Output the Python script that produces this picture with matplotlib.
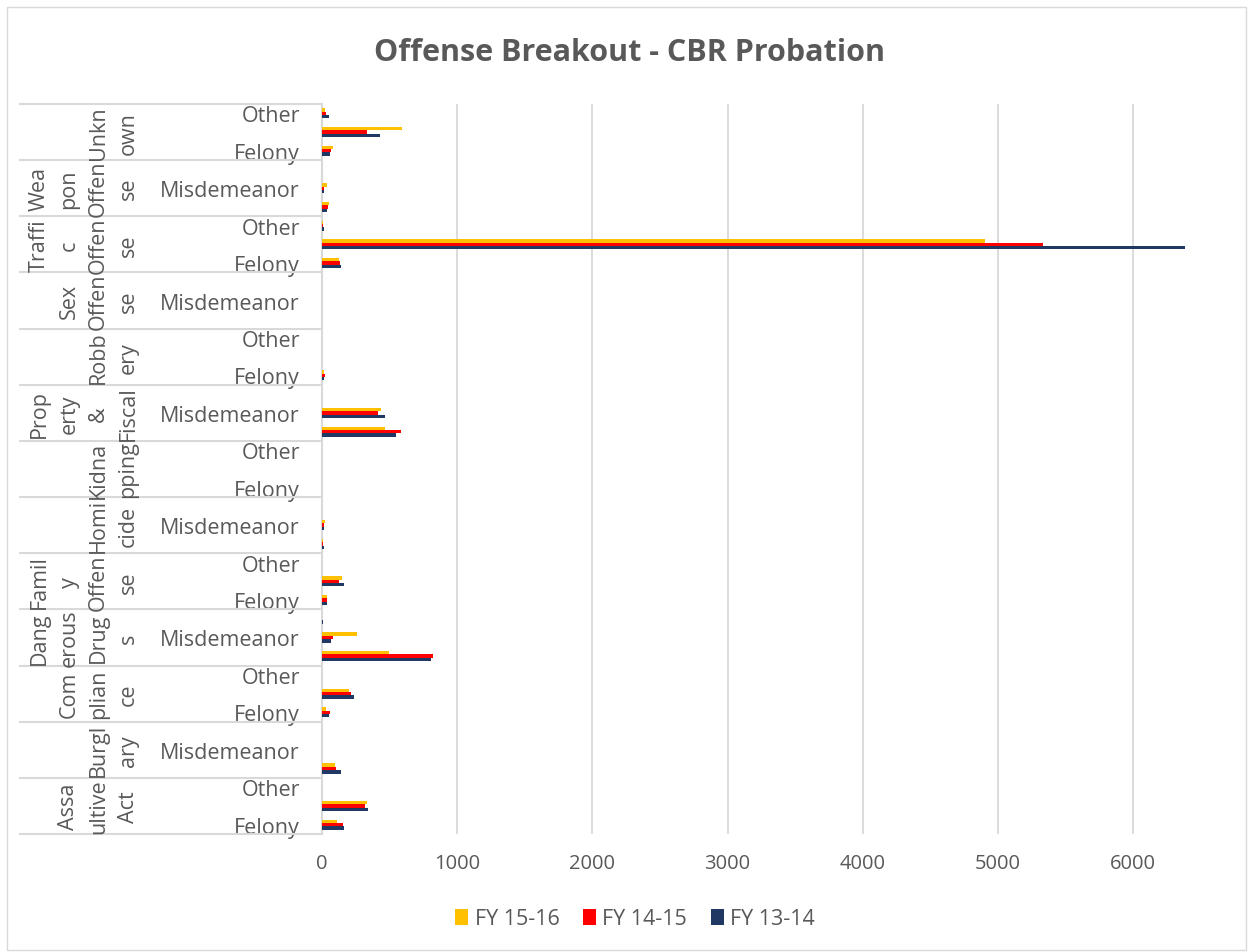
import numpy as np
import matplotlib.pyplot as plt
from matplotlib import transforms
from matplotlib.patches import Rectangle

plt.rcParams['font.family'] = ['Open Sans', 'DejaVu Sans']

#===================================================================================================
# offense groups (bottom to top), wrapped the way the narrow label column breaks them
groups = ["Assa\nultive\nAct", "Burgl\nary", "Com\nplian\nce", "Dang\nerous\nDrug\ns",
          "Famil\ny\nOffen\nse", "Homi\ncide", "Kidna\npping", "Prop\nerty\n&\nFiscal",
          "Robb\nery", "Sex\nOffen\nse", "Traffi\nc\nOffen\nse", "Wea\npon\nOffen\nse",
          "Unkn\nown"]
subcats = ["Felony", "Misdemeanor", "Other"]

# one value per (group, subcategory) row, same order as above
fy1516 = [114, 331, 0,   94, 0, 0,   32, 203, 0,   492, 262, 3,   40, 146, 0,   7, 25, 0,
          0, 0, 0,   467, 440, 0,   15, 0, 0,   2, 2, 0,   126, 4904, 5,   49, 37, 0,   84, 595, 25]
fy1415 = [158, 319, 0,   106, 0, 0,   62, 212, 0,   820, 84, 3,   37, 128, 0,   10, 17, 0,
          0, 0, 0,   583, 415, 0,   22, 0, 0,   2, 1, 0,   136, 5333, 8,   47, 15, 0,   67, 336, 32]
fy1314 = [163, 341, 0,   141, 0, 0,   52, 240, 0,   803, 69, 5,   37, 163, 0,   15, 15, 0,
          0, 0, 0,   548, 469, 0,   17, 0, 0,   1, 1, 0,   141, 6383, 14,   37, 17, 0,   57, 427, 52]

series_names = ["FY 15-16", "FY 14-15", "FY 13-14"]
colors = ["#FFC000", "#FF0000", "#1F3864"]

#===================================================================================================
W, H = 1253, 953
fig = plt.figure(figsize=(W/100, H/100), dpi=100)
fx = lambda px: px/W
fy = lambda py: 1 - py/H

ax = fig.add_axes([fx(322), fy(835), fx(1194) - fx(322), fy(105) - fy(835)])

rows = np.arange(len(fy1516))
h = 0.18
for vals, off, c, name in zip([fy1516, fy1415, fy1314], [h, 0, -h], colors, series_names):
    ax.barh(rows + off, vals, height=h, color=c, label=name, zorder=3)

ax.set_xlim(0, 6450)
ax.set_ylim(-0.5, len(rows) - 0.5)
ax.set_xticks(np.arange(0, 7000, 1000))
ax.grid(axis='x', color='#d9d9d9', lw=1.3, zorder=0)
ax.tick_params(axis='x', length=0, pad=14, labelsize=14.5, labelcolor='#595959')

# inner category labels, every other row
labels = [subcats[i % 3] for i in rows]
ax.set_yticks(rows[::2])
ax.set_yticklabels(labels[::2])
ax.tick_params(axis='y', length=0, pad=16, labelsize=15.5, labelcolor='#595959')

for s in ['top', 'right', 'bottom']:
    ax.spines[s].set_visible(False)
ax.spines['left'].set_color('#d9d9d9')
ax.spines['left'].set_linewidth(1.5)

# group separators and outer labels
trans = transforms.blended_transform_factory(fig.transFigure, ax.transData)
for g in range(len(groups) + 1):
    ax.plot([fx(20), fx(322)], [3*g - 0.5]*2, transform=trans, clip_on=False,
            color='#d9d9d9', lw=1.5)
for g, name in enumerate(groups):
    parts = name.split("\n")
    n = len(parts)
    for k, p in enumerate(parts):
        xb = 133.5 - 29.5*(n - 1 - k)
        ax.text(fx(xb), 3*g + 1, p, transform=trans, rotation=90, rotation_mode='anchor',
                ha='center', va='baseline', fontsize=15.5, color='#595959')

fig.text(fx(630), fy(53), "Offense Breakout - CBR Probation", ha='center', va='center',
         fontsize=22, fontweight='bold', color='#595959')

fig.legend(loc='center', bbox_to_anchor=(fx(635), fy(920)), ncol=3, frameon=False,
           fontsize=15.5, labelcolor='#595959', handlelength=0.6, handleheight=0.7,
           handletextpad=0.3, columnspacing=1.1)

fig.patches.append(Rectangle((fx(7), fy(951)), fx(1246) - fx(7), fy(8) - fy(951),
                             transform=fig.transFigure, fill=False, edgecolor='#d9d9d9', lw=1))

plt.savefig('out.png', dpi=100)
plt.close()
